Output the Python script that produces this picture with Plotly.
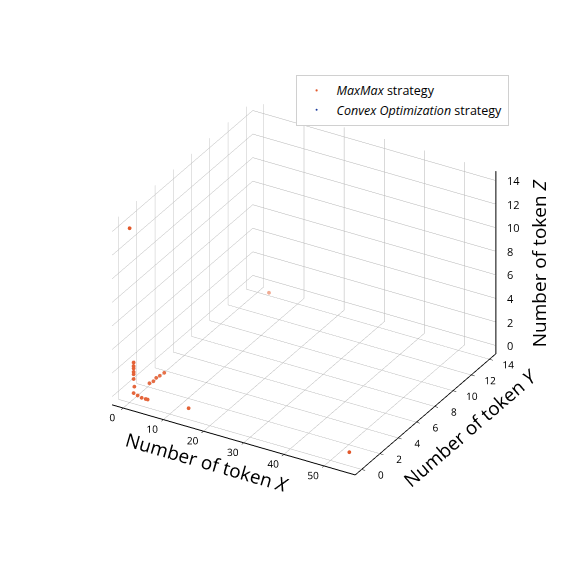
import numpy as np
import plotly.graph_objects as go

# MaxMax strategy points (x, y, z token counts)
maxmax_x = [0.0, 1.0, 1.0, 1.0, 1.0, 1.0, 1.0, 0.5, 1.0, 2.0, 3.0, 4.0, 4.5,
            1.3, 1.6, 1.4, 1.6, 1.8, 14.0, 54.0, 4.0]
maxmax_y = [0.0, 0.0, 0.0, 0.0, 0.0, 0.0, 0.0, 0.3, 0.0, 0.0, 0.0, 0.0, 0.0,
            1.6, 1.9, 2.3, 2.6, 3.0, 0.3, 0.3, 13.5]
maxmax_z = [14.1, 2.8, 2.5, 2.3, 2.0, 1.8, 1.4, 0.5, 0.2, 0.1, 0.0, 0.0, 0.0,
            0.0, 0.0, 0.0, 0.0, 0.0, 0.0, 0.2, 0.0]

# Convex Optimization strategy points (hidden under the MaxMax ones)
convex_x = [1.3, 4.0]
convex_y = [1.6, 13.5]
convex_z = [0.0, 0.0]

x_range = [-2.75, 57.75]
y_range = [-0.7, 14.7]
z_range = [-0.7, 14.8]
x_ticks = [0, 10, 20, 30, 40, 50]
y_ticks = [0, 2, 4, 6, 8, 10, 12, 14]
z_ticks = [0, 2, 4, 6, 8, 10, 12, 14]

orange = (226, 88, 42)
blue = (26, 58, 156)
font = 'Open Sans'


def depth_shade(rgb, xs, ys, zs):
    # fade far points toward white, a bit like matplotlib's depthshade
    xn = (np.array(xs) - x_range[0]) / (x_range[1] - x_range[0])
    yn = (np.array(ys) - y_range[0]) / (y_range[1] - y_range[0])
    zn = (np.array(zs) - z_range[0]) / (z_range[1] - z_range[0])
    d = 0.433 * xn - 0.75 * yn + 0.5 * zn
    span = d.max() - d.min()
    a = 1 - 0.5 * ((d.max() - d) / span) ** 2 if span > 0 else np.ones_like(d)
    out = []
    for ai in a:
        c = [int(round(255 - ai * (255 - v))) for v in rgb]
        out.append('rgb(%d,%d,%d)' % tuple(c))
    return out


fig = go.Figure()
fig.add_trace(go.Scatter3d(x=convex_x, y=convex_y, z=convex_z, mode='markers',
                           marker=dict(size=2, color='rgb(%d,%d,%d)' % blue, line=dict(width=0)),
                           name='<i>Convex Optimization</i> strategy', legendrank=2))
fig.add_trace(go.Scatter3d(x=maxmax_x, y=maxmax_y, z=maxmax_z, mode='markers',
                           marker=dict(size=2.2, color=depth_shade(orange, maxmax_x, maxmax_y, maxmax_z),
                                       line=dict(width=0)),
                           name='<i>MaxMax</i> strategy', legendrank=1))
# z axis drawn on the right edge, like matplotlib does
fig.add_trace(go.Scatter3d(x=[x_range[1]] * 2, y=[y_range[1]] * 2, z=z_range,
                           mode='lines', line=dict(color='black', width=2),
                           showlegend=False, hoverinfo='skip'))

axis_style = dict(showbackground=False, gridcolor='#b4b4b4', gridwidth=1,
                  showline=True, linecolor='black', linewidth=2,
                  zeroline=False, ticks='outside', tickcolor='black', ticklen=4,
                  tickangle=0,
                  tickfont=dict(size=11, color='black', family=font),
                  showspikes=False)

# z tick labels and title on the right side
z_notes = [dict(x=x_range[1], y=y_range[1], z=t, text=str(t), showarrow=False,
                xanchor='left', xshift=9, font=dict(size=11, color='black', family=font))
           for t in z_ticks]
z_notes.append(dict(x=x_range[1], y=y_range[1], z=7, text='Number of token <i>Z</i>',
                    showarrow=False, textangle=-90, xshift=43,
                    font=dict(size=19, color='black', family=font)))

fig.update_layout(
    width=581, height=581,
    paper_bgcolor='white',
    margin=dict(l=0, r=0, t=0, b=0),
    font=dict(family=font, color='black'),
    showlegend=True,
    legend=dict(x=0.495, y=0.885, xanchor='left', yanchor='top',
                bgcolor='white', bordercolor='#d0d0d0', borderwidth=1,
                tracegroupgap=0, font=dict(size=12.5, family=font), itemsizing='trace'),
    scene=dict(
        domain=dict(x=[0.085, 0.935], y=[0.108, 0.928]),
        xaxis=dict(axis_style, range=x_range, tickvals=x_ticks,
                   title=dict(text='Number of token <i>X</i>', font=dict(size=19))),
        yaxis=dict(axis_style, range=y_range, tickvals=y_ticks,
                   title=dict(text='Number of token <i>Y</i>', font=dict(size=19))),
        zaxis=dict(axis_style, range=z_range, tickvals=z_ticks, showticklabels=False,
                   showline=False, ticks='', title=dict(text='')),
        aspectmode='manual',
        aspectratio=dict(x=1.18, y=1.18, z=0.885),
        camera=dict(eye=dict(x=0.81, y=-1.40, z=0.93),
                    center=dict(x=0, y=0, z=0),
                    projection=dict(type='orthographic')),
        annotations=z_notes,
    ),
)

fig.write_html("out.html")
